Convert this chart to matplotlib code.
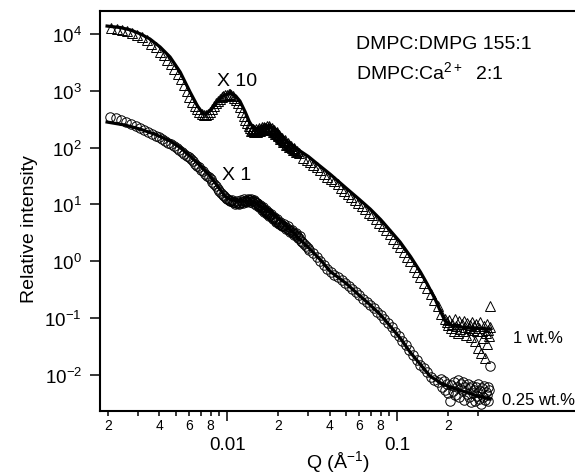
import matplotlib
matplotlib.use('Agg')
import matplotlib.pyplot as plt
from matplotlib.ticker import FixedLocator, FixedFormatter

plt.rcParams['font.family'] = ['Liberation Sans', 'DejaVu Sans']
plt.rcParams['mathtext.fontset'] = 'custom'
plt.rcParams['mathtext.rm'] = 'Liberation Sans'
plt.rcParams['mathtext.it'] = 'Liberation Sans:italic'
plt.rcParams['mathtext.bf'] = 'Liberation Sans:bold'

# ---------------------------------------------------------------------------
# datos: 1 wt.% (x10, triangulos) y 0.25 wt.% (x1, circulos)

tri_q = [0.00208, 0.00224, 0.00241, 0.00258, 0.00276, 0.00295, 0.00315, 0.00336, 0.00358, 0.00380,
         0.00402, 0.00424, 0.00446, 0.00468, 0.00490, 0.00512, 0.00534, 0.00556, 0.00578, 0.00600,
         0.00622, 0.00644, 0.00666, 0.00688, 0.00710, 0.00732, 0.00754, 0.00776,
         0.00798, 0.00820, 0.00842, 0.00864, 0.00886, 0.00908, 0.00930, 0.00952, 0.00974, 0.00996,
         0.0102, 0.0104, 0.0106, 0.0108, 0.0110, 0.0113, 0.0116, 0.0119, 0.0122, 0.0125,
         0.0128, 0.0131, 0.0134, 0.0137, 0.0140, 0.0143, 0.0146, 0.0149, 0.0152, 0.0155,
         0.0158, 0.0161, 0.0164, 0.0167, 0.0170, 0.0173, 0.0176, 0.0179, 0.0182, 0.0185,
         0.0188, 0.0191, 0.0194, 0.0197, 0.0200, 0.0204, 0.0208, 0.0212, 0.0216, 0.0220,
         0.0225, 0.0230, 0.0235, 0.0240, 0.0246, 0.0252, 0.0258, 0.0264,
         0.01355, 0.01385, 0.01415, 0.01445, 0.01475, 0.01505, 0.01535, 0.01565, 0.01595, 0.01625,
         0.01655, 0.01685, 0.01715, 0.01745, 0.01775, 0.01805, 0.01835, 0.01865, 0.01895, 0.01925,
         0.01955, 0.01985, 0.0202, 0.0206, 0.0210, 0.0214, 0.0218, 0.0222, 0.0227, 0.0232,
         0.0237, 0.0243, 0.0249, 0.0255,
         0.0280, 0.0293, 0.0307, 0.0322, 0.0337, 0.0353, 0.0370, 0.0388, 0.0406, 0.0426,
         0.0446, 0.0468, 0.0490, 0.0514, 0.0538, 0.0564, 0.0591, 0.0620, 0.0650, 0.0681,
         0.0714, 0.0748, 0.0784, 0.0822, 0.0861, 0.0903, 0.0946, 0.0992, 0.104, 0.109,
         0.114, 0.119, 0.125, 0.131, 0.137, 0.144, 0.150, 0.157, 0.165, 0.173, 0.181, 0.190,
         0.195, 0.199, 0.203, 0.207, 0.211, 0.215, 0.219, 0.223, 0.227, 0.231,
         0.235, 0.239, 0.243, 0.247, 0.251, 0.255, 0.259, 0.263, 0.267, 0.271,
         0.275, 0.279, 0.283, 0.287, 0.291, 0.295, 0.299, 0.303, 0.307, 0.311,
         0.315, 0.319, 0.323, 0.327, 0.331, 0.335, 0.339, 0.343, 0.347, 0.351, 0.351]
tri_i = [12500, 12100, 11700, 11100, 10400, 9600, 8700, 7700, 6800, 5800,
         4900, 4200, 3500, 2950, 2450, 2000, 1620, 1290, 1010, 790,
         640, 540, 470, 420, 385, 370, 375, 395,
         425, 480, 540, 600, 660, 720, 770, 810, 840, 860,
         870, 865, 845, 810, 760, 690, 600, 510, 430, 360,
         310, 270, 240, 220, 205, 198, 196, 198, 202, 207,
         212, 216, 220, 222, 224, 225, 224, 220, 214, 207,
         198, 190, 181, 172, 164, 155, 146, 138, 131, 124,
         117, 111, 105, 100, 95, 90, 86, 81,
         245, 200, 215, 185, 210, 190, 218, 198, 228, 205,
         235, 210, 238, 212, 236, 205, 222, 192, 205, 176,
         188, 160, 168, 142, 150, 126, 134, 113, 120, 103,
         108, 92, 97, 83,
         66, 60, 55, 50, 45, 40, 35, 31, 28, 25.5,
         22.6, 19.8, 17.4, 15.4, 13.6, 12.0, 10.5, 9.4, 8.2, 7.2,
         6.4, 5.6, 4.8, 4.1, 3.5, 3.0, 2.5, 2.1, 1.78, 1.45,
         1.2, 1.0, 0.80, 0.64, 0.52, 0.42, 0.34, 0.27, 0.21, 0.16, 0.12, 0.095,
         0.085, 0.075, 0.092, 0.068, 0.080, 0.060, 0.095, 0.072, 0.055, 0.088,
         0.065, 0.078, 0.058, 0.090, 0.070, 0.050, 0.083, 0.066, 0.075, 0.047,
         0.086, 0.062, 0.071, 0.040, 0.080, 0.058, 0.030, 0.068, 0.085, 0.024,
         0.060, 0.045, 0.072, 0.020, 0.055, 0.078, 0.035, 0.062, 0.048, 0.16, 0.07]

fit1_q = [0.00197, 0.00235, 0.00270, 0.00310, 0.00352, 0.00404, 0.00462, 0.0053, 0.00606, 0.0067,
          0.0072, 0.00742, 0.0080, 0.0087, 0.0095, 0.0104, 0.0112, 0.0119, 0.0128, 0.0137,
          0.0150, 0.0160, 0.0172, 0.0185, 0.0197, 0.0225, 0.0269, 0.030, 0.035, 0.0404,
          0.050, 0.060, 0.0694, 0.080, 0.090, 0.104, 0.12, 0.137, 0.15, 0.167,
          0.18, 0.191, 0.21, 0.25, 0.30, 0.352]
fit1_i = [13800, 13000, 11800, 10000, 8170, 5900, 3940, 2140, 950, 540,
          400, 390, 450, 630, 820, 910, 820, 660, 420, 260,
          212, 215, 230, 225, 200, 126, 87, 70, 48, 34,
          19.5, 12.2, 8.3, 5.4, 3.6, 2.18, 1.2, 0.646, 0.40, 0.216,
          0.13, 0.089, 0.074, 0.068, 0.066, 0.064]

circ_q = [0.00205, 0.00222, 0.00239, 0.00256, 0.00273, 0.00290, 0.00308, 0.00326, 0.00344, 0.00362,
          0.00380, 0.00398, 0.00416, 0.00434, 0.00452, 0.00470, 0.00488, 0.00506, 0.00524, 0.00542,
          0.00560, 0.00578, 0.00596, 0.00614, 0.00632, 0.00650, 0.00668, 0.00686, 0.00704, 0.00722,
          0.00740, 0.0076, 0.0078, 0.0080, 0.0082, 0.0084, 0.0086, 0.0088, 0.0090, 0.0092,
          0.0094, 0.0096, 0.0098, 0.0100, 0.0102, 0.0104, 0.0106, 0.0108, 0.0110, 0.0113,
          0.0116, 0.0119, 0.0122, 0.0125, 0.0128, 0.0131, 0.0134, 0.0137, 0.0140, 0.0143,
          0.0146, 0.0149, 0.0152, 0.0155, 0.0158, 0.0161, 0.0164, 0.0167, 0.0170, 0.0173,
          0.0176, 0.0179, 0.0183, 0.0187, 0.0191, 0.0195, 0.0199, 0.0204, 0.0209, 0.0214,
          0.0219, 0.0225, 0.0231, 0.0237, 0.0243, 0.0250, 0.0257, 0.0264,
          0.0107, 0.0111, 0.0114, 0.01175, 0.01205, 0.01235, 0.01265, 0.01295, 0.01325, 0.01355,
          0.01385, 0.01415, 0.01445, 0.01475, 0.01505, 0.01535, 0.01565, 0.01595, 0.01625, 0.01655,
          0.01685, 0.01715, 0.01745, 0.01775, 0.0181, 0.0185, 0.0189, 0.0193, 0.0197, 0.0201,
          0.0206, 0.0211, 0.0216, 0.0222, 0.0228, 0.0234, 0.0240, 0.0246, 0.0253, 0.0260,
          0.0267, 0.0271, 0.0284, 0.0298,
          0.0277, 0.0291, 0.0305, 0.0320, 0.0336, 0.0353, 0.0370, 0.0388, 0.0408, 0.0428,
          0.0449, 0.0471, 0.0495, 0.0519, 0.0545, 0.0572, 0.0600, 0.0630, 0.0661, 0.0694,
          0.0728, 0.0764, 0.0802, 0.0842, 0.0883, 0.0927, 0.0973, 0.102, 0.107, 0.112,
          0.118, 0.124, 0.130, 0.136, 0.143, 0.150, 0.157, 0.165, 0.173,
          0.180, 0.184, 0.188, 0.192, 0.196, 0.200, 0.204, 0.208, 0.212, 0.216,
          0.220, 0.224, 0.228, 0.232, 0.236, 0.240, 0.244, 0.248, 0.252, 0.256,
          0.260, 0.264, 0.268, 0.272, 0.276, 0.280, 0.284, 0.288, 0.292, 0.296,
          0.300, 0.304, 0.308, 0.312, 0.316, 0.320, 0.324, 0.328, 0.332, 0.336,
          0.340, 0.344, 0.348, 0.352]
circ_i = [350, 330, 305, 282, 262, 243, 225, 208, 192, 177,
          163, 151, 140, 130, 121, 114, 106, 98, 92, 85,
          78, 72, 67, 62, 57, 52, 48, 45, 41, 38,
          35, 32, 30, 27.5, 25, 23, 21, 19, 17.5, 16,
          14.8, 13.8, 13.0, 12.5, 12.1, 11.7, 11.4, 11.2, 11.0, 10.8,
          10.7, 10.8, 11.0, 11.3, 11.5, 11.7, 11.8, 11.8, 11.6, 11.3,
          10.9, 10.4, 9.9, 9.4, 8.9, 8.5, 8.1, 7.7, 7.4, 7.1,
          6.8, 6.5, 6.1, 5.8, 5.5, 5.2, 4.9, 4.6, 4.4, 4.2,
          4.0, 3.85, 3.6, 3.4, 3.2, 3.0, 2.8, 2.55,
          12.2, 10.3, 11.6, 10.2, 11.8, 10.6, 12.3, 10.9, 12.5, 11.0,
          12.4, 10.8, 11.8, 9.9, 10.7, 8.9, 9.9, 8.1, 8.9, 7.3,
          8.0, 6.8, 7.5, 6.2, 6.8, 5.6, 6.1, 5.0, 5.5, 4.5,
          4.9, 4.1, 4.5, 3.7, 4.1, 3.3, 3.6, 2.95, 3.2, 2.6,
          2.75, 2.3, 2.05, 1.7,
          2.15, 1.85, 1.6, 1.42, 1.2, 1.0, 0.86, 0.74, 0.64, 0.58,
          0.52, 0.47, 0.42, 0.37, 0.33, 0.285, 0.25, 0.22, 0.195, 0.17,
          0.148, 0.128, 0.112, 0.096, 0.082, 0.069, 0.057, 0.048, 0.040, 0.033,
          0.027, 0.022, 0.018, 0.015, 0.013, 0.011, 0.0090, 0.0080, 0.0074,
          0.0085, 0.0062, 0.0078, 0.0055, 0.0070, 0.0048, 0.0034, 0.0066, 0.0052, 0.0074,
          0.0045, 0.0060, 0.0080, 0.0040, 0.0068, 0.0054, 0.0075, 0.0036, 0.0062, 0.0046,
          0.0070, 0.0040, 0.0058, 0.0033, 0.0064, 0.0048, 0.0055, 0.0035, 0.0060, 0.0042,
          0.0068, 0.0038, 0.0052, 0.0031, 0.0058, 0.0040, 0.0064, 0.0036, 0.0050, 0.0044,
          0.0060, 0.0034, 0.0054, 0.0143]

fit2_q = [0.00197, 0.0025, 0.00308, 0.0038, 0.00462, 0.0053, 0.00606, 0.0070, 0.00794, 0.0088,
          0.00973, 0.0104, 0.0114, 0.0125, 0.0137, 0.0146, 0.0156, 0.0170, 0.0186, 0.0205,
          0.0225, 0.0245, 0.0269, 0.0295, 0.0320, 0.0360, 0.0404, 0.050, 0.0605, 0.0694,
          0.080, 0.091, 0.105, 0.119, 0.135, 0.156, 0.180, 0.205, 0.25, 0.30, 0.352]
fit2_i = [282, 250, 212, 170, 131, 100, 71, 47, 31.6, 21,
          14, 12.3, 11.5, 11.4, 11.5, 10.8, 9.4, 8.0, 6.8, 5.3,
          4.0, 3.2, 2.4, 1.85, 1.45, 1.0, 0.66, 0.41, 0.244, 0.17,
          0.113, 0.072, 0.043, 0.0252, 0.016, 0.0095, 0.0072, 0.0061, 0.0050, 0.0042, 0.00375]

minor_pos = [0.002, 0.003, 0.004, 0.005, 0.006, 0.007, 0.008, 0.009,
             0.02, 0.03, 0.04, 0.05, 0.06, 0.07, 0.08, 0.09, 0.2, 0.3]
minor_lab = ['2', '', '4', '', '6', '', '8', '',
             '2', '', '4', '', '6', '', '8', '', '2', '']
major_pos = [0.01, 0.1]
major_lab = ['0.01', '0.1']
y_pos = [1e-2, 1e-1, 1e0, 1e1, 1e2, 1e3, 1e4]
y_lab = [r'$\mathregular{10^{-2}}$', r'$\mathregular{10^{-1}}$', r'$\mathregular{10^{0}}$',
         r'$\mathregular{10^{1}}$', r'$\mathregular{10^{2}}$', r'$\mathregular{10^{3}}$',
         r'$\mathregular{10^{4}}$']

# ---------------------------------------------------------------------------
fig = plt.figure(figsize=(5.75, 4.77), dpi=100)
ax = fig.add_axes([100 / 575, 1 - 412 / 477, 475 / 575, 400 / 477])

ax.plot(tri_q, tri_i, ls='none', marker='^', ms=6.5, mfc='none', mec='black', mew=0.7)
ax.plot(circ_q, circ_i, ls='none', marker='o', ms=6.8, mfc='none', mec='black', mew=0.7)
ax.plot(fit1_q, fit1_i, color='black', lw=2.3, solid_joinstyle='round')
ax.plot(fit2_q, fit2_i, color='black', lw=2.3, solid_joinstyle='round')

ax.set_xscale('log')
ax.set_yscale('log')
ax.set_xlim(0.00179, 1.11)
ax.set_ylim(0.00231, 2.54e4)

ax.xaxis.set_major_locator(FixedLocator(major_pos))
ax.xaxis.set_major_formatter(FixedFormatter(major_lab))
ax.xaxis.set_minor_locator(FixedLocator(minor_pos))
ax.xaxis.set_minor_formatter(FixedFormatter(minor_lab))
ax.yaxis.set_major_locator(FixedLocator(y_pos))
ax.yaxis.set_major_formatter(FixedFormatter(y_lab))
ax.yaxis.set_minor_locator(FixedLocator([]))

ax.tick_params(axis='x', which='major', direction='out', length=7.5, width=1.1,
               labelsize=13.5, pad=10.5)
ax.tick_params(axis='x', which='minor', direction='out', length=3.6, width=1.1,
               labelsize=10, pad=1.8)
ax.tick_params(axis='y', which='major', direction='out', length=7.5, width=1.1,
               labelsize=13.5, pad=5.5)

ax.spines['right'].set_visible(False)
for s in ['left', 'top', 'bottom']:
    ax.spines[s].set_linewidth(1.5)

# textos
def px(x, y):
    return x / 575, 1 - y / 477

fig.text(*px(30, 229), 'Relative intensity', rotation=90, ha='center', va='center', fontsize=14)
fig.text(*px(338, 468), r'Q (Å$^{-1}$)', ha='center', va='baseline', fontsize=14)
fig.text(*px(217, 86), 'X 10', ha='left', va='baseline', fontsize=14)
fig.text(*px(222, 180), 'X 1', ha='left', va='baseline', fontsize=14)
fig.text(*px(356, 49), 'DMPC:DMPG 155:1', ha='left', va='baseline', fontsize=14)
fig.text(*px(356, 79), r'DMPC:Ca$^{2+}$  2:1', ha='left', va='baseline', fontsize=14)
fig.text(*px(513, 343), '1 wt.%', ha='left', va='baseline', fontsize=12)
fig.text(*px(502, 405), '0.25 wt.%', ha='left', va='baseline', fontsize=12)

fig.savefig('out.png', dpi=100)
